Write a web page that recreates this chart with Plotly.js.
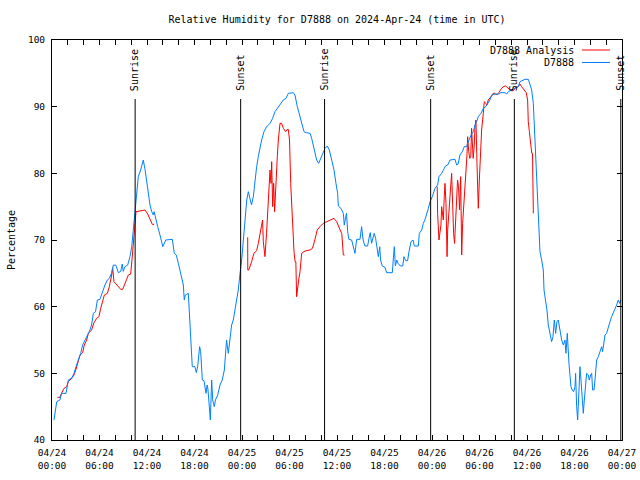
<!DOCTYPE html>
<html>
<head>
<meta charset="utf-8">
<script src="https://cdn.plot.ly/plotly-3.0.1.min.js"></script>
<style>html,body{margin:0;padding:0;background:#fff;}#chart{width:640px;height:480px;}</style>
</head>
<body>
<div id="chart"></div>
<script>
// Hours since 2024-04-24 00:00 UTC and relative humidity (%)
const obsHours = [0.25,0.6,1.0,1.2,1.77,1.95,2.06,2.5,2.78,3.03,3.33,3.62,3.87,4.17,4.46,4.71,5.0,5.22,5.5,5.73,6.06,6.36,6.69,6.99,7.24,7.54,7.75,8.08,8.38,8.68,8.88,9.0,9.22,9.56,9.85,10.07,10.19,10.36,10.52,10.7,10.9,11.2,11.53,11.75,11.96,12.17,12.38,12.6,12.8,12.9,13.1,13.35,13.64,13.93,14.0,14.36,15.2,15.45,15.7,15.96,16.17,16.38,16.59,16.71,16.84,17.22,17.43,17.56,17.72,18.05,18.23,18.4,18.65,18.78,18.99,19.2,19.45,19.6,19.7,20.0,20.17,20.3,20.5,20.65,20.93,21.22,21.5,21.77,21.94,22.05,22.27,22.52,22.69,22.9,23.11,23.33,23.53,23.75,23.96,24.17,24.38,24.6,24.8,25.0,25.2,25.43,25.64,25.85,26.06,26.27,26.48,26.78,26.95,27.12,27.54,27.87,28.17,28.46,28.71,29.0,29.22,29.56,29.85,30.48,30.69,30.99,31.24,31.54,31.83,32.1,32.6,32.8,33.0,33.22,33.43,33.68,33.85,34.19,34.48,34.77,35.03,35.33,35.62,35.87,36.08,36.17,36.5,36.8,36.92,37.1,37.2,37.35,37.5,37.85,38.06,38.27,38.48,38.9,39.11,39.3,39.53,39.87,40.04,40.2,40.37,40.58,40.7,40.88,41.05,41.22,41.4,41.5,41.72,42.06,42.27,42.99,43.1,43.24,43.37,43.55,43.7,44.0,44.3,44.46,44.67,44.92,45.09,45.35,45.6,45.77,46.27,46.4,46.7,46.9,47.1,47.33,47.54,47.75,48.04,48.38,48.71,48.88,49.22,49.55,49.7,49.98,50.27,50.9,51.12,51.3,51.53,51.83,52.08,52.35,52.6,52.93,53.22,53.43,53.64,53.85,54.19,54.48,54.78,55.03,55.32,55.53,55.96,56.37,56.7,57.22,57.43,57.64,58.06,58.48,58.9,59.11,59.75,60.17,60.38,60.59,60.8,61.01,61.13,61.3,61.43,61.51,61.64,61.85,62.06,62.15,62.36,62.52,62.69,62.9,63.11,63.28,63.45,63.62,63.78,63.95,64.16,64.38,64.59,64.8,64.92,65.09,65.3,65.43,65.55,65.72,65.89,66.06,66.14,66.27,66.4,66.57,66.69,66.82,66.99,67.11,67.24,67.41,67.53,67.74,67.87,68.04,68.17,68.29,68.46,68.59,68.71,68.8,69.01,69.22,69.43,69.55,69.64,69.85,70.06,70.27,70.48,70.69,70.9,71.11,71.32,71.53,71.7,71.85];
const obsValues = [43,45.75,46,47,47,48.5,49,49.3,50,51,52,53,54.25,55,55.75,56.25,57.25,59,59.25,61,61.1,62.25,63.25,64,64.25,65.1,66.25,66.2,65.1,65.3,66.4,65.3,66,66.25,67.5,69,70.5,73.5,75.5,78,79.5,80.5,82,80.6,78.75,76.75,75.25,74.25,73.75,74.25,73,72,70.75,69.4,69,70,70.1,68,67.75,66.5,65.25,64.5,63.25,61,61.75,62,57.5,54.75,51,51,50.1,51,54,53.25,49,48.9,47,48.25,47.6,43,49,46,45,46,46.75,48.25,49,50.5,54,55,53,55.75,57.25,58,59.5,61,62.5,65,67,70,73,76,77.25,76,75.25,76.5,79,81,82.5,84,85,86.25,86.75,87,87.5,88.25,89.25,89.75,90,90.5,91,91.25,92,92.1,91.75,90,88.75,87.5,86.25,86.1,86,85.25,84.25,82.75,82,81.5,82,82.75,83.75,84.1,83.5,82,80.5,78.5,77,75.1,74.75,74,72.25,73.5,74,71.25,70.1,70,69,68,70.1,70.1,72,70,69.1,69.1,70.25,71.1,69.5,70.5,71,70.25,69.1,67.5,69,67,66.1,65.9,65.1,65.1,67,69,66.1,67,66.5,66.1,66.1,67.5,66.9,66.9,68.25,69.75,70,69.1,69.1,71,71.5,72.5,73,73.75,74.75,75.75,76.5,77.75,78.25,79.5,80,80.75,81.1,81.25,82,82.1,81.25,81.4,82.75,83.25,84,84,84.75,85.75,86.25,87.25,87.75,88.5,89,89.75,90,90.5,91,91.75,91.9,91.9,92.1,92.1,91.9,92.25,92.5,92.75,93,93.75,94.1,94.1,93.25,92.5,90.5,85,82.5,78.75,74.25,71,68.25,67,65.5,62.5,61,59.5,57.25,56,54.75,55.5,58,56,57.75,58,56.25,55,54.25,55,53,56,51.5,50,48,47.5,47.25,48,50,45,43,47.5,51,49,45.5,44,46,48.5,50,49.75,49,49.75,50,47.5,47.5,49,51,52,52.5,53.25,54,53.25,54,55.75,56,57,57.75,58.5,59,59.5,60.25,61,60.5,61];

const anaHours = [0.67,1.0,1.2,1.52,1.85,2.06,2.48,2.78,3.03,3.33,3.54,3.87,4.08,4.38,4.59,5.0,5.3,5.64,5.93,6.15,6.4,6.61,6.99,7.24,7.54,7.66,7.83,8.08,8.46,8.68,8.93,9.18,9.43,9.64,9.94,10.1,10.27,10.44,10.61,11.11,11.75,12.09,12.38,12.67,12.9,18.0,24.72,24.73,24.85,25.0,25.22,25.5,25.85,26.06,26.27,26.48,26.6,26.69,26.9,27.1,27.28,27.45,27.54,27.66,27.75,27.87,28.0,28.12,28.29,28.46,28.59,28.71,28.8,29.0,29.22,29.52,29.64,29.85,30.0,30.15,30.27,30.4,30.57,30.7,30.8,30.9,31.02,31.16,31.33,31.54,31.83,32.1,32.6,32.9,33.2,33.5,33.85,34.27,34.7,35.2,35.62,35.96,36.17,36.4,36.6,36.7,36.8,36.96,42.0,48.66,48.71,48.88,49.0,49.13,49.22,49.43,49.55,49.64,49.77,49.9,49.98,50.06,50.14,50.27,50.48,50.6,50.73,50.85,50.98,51.1,51.23,51.35,51.48,51.62,51.75,51.87,52.0,52.17,52.3,52.43,52.5,52.64,52.77,52.9,53.0,53.2,53.33,53.43,53.55,53.68,53.77,53.85,53.98,54.1,54.27,54.48,54.6,54.78,54.94,55.1,55.32,55.53,55.74,55.96,56.16,56.45,56.7,57.0,57.3,57.64,57.98,58.27,58.57,58.9,59.11,59.32,59.65,59.9,60.08,60.16,60.3,60.46,60.6,60.7,60.8];
const anaValues = [46.4,46.4,47,47.75,48,48.75,49.25,49.75,50.6,51.75,52.75,53.1,54.25,55,56,56.5,57.6,58.25,58.5,59.75,60.75,61.75,62,63,64.75,65.85,63.75,63.4,62.9,62.6,62.6,63.25,64.1,64.75,64.9,67,70,71.75,74.25,74.4,74.5,73.9,73,72.35,72.35,null,70.4,65.5,65.5,66,66.75,68,68.4,69.5,71,72,73,69.75,67.5,71,75,77.5,80.5,78.5,81.75,75,78.5,74.25,79.5,82.5,85,87,87.5,87.5,86.75,86.25,86.5,86.6,85,78.5,75,72,68.25,66.75,66.75,61.5,62.9,64,65.25,68,68.25,68.4,68.5,68.75,70,71.5,72,72.5,72.75,73,73.25,72.75,72,71.5,71,69.25,67.75,67.75,null,78,74,70,71,72.25,75,73,76.5,78.5,75.5,67.5,71.5,73,75.5,76.5,80,74.5,71,69.5,72.5,76.5,79,78,74.5,79.5,67.75,72.5,75.5,79,80.5,83,85.5,83.25,82.25,82.5,86.75,82.25,84,87,88,81.5,76,74.75,79,83,86.5,89,90.75,90.5,90.25,91,91.25,91.6,92,92,91.75,92.1,92.6,93,93.1,92.75,92.4,92.4,92.9,93,93.4,93,92.5,92.1,91,87.75,86.25,84,83,83,74];

const sunHours = [10.5, 23.83, 34.43, 47.83, 58.4, 71.85];
const sunLabels = ["Sunrise","Sunset","Sunrise","Sunset","Sunrise","Sunset"];

const tickHours = [0,6,12,18,24,30,36,42,48,54,60,66,72];
const tickLabels = ["04/24<br>00:00","04/24<br>06:00","04/24<br>12:00","04/24<br>18:00","04/25<br>00:00","04/25<br>06:00","04/25<br>12:00","04/25<br>18:00","04/26<br>00:00","04/26<br>06:00","04/26<br>12:00","04/26<br>18:00","04/27<br>00:00"];

const seriesNames = ["D7888 Analysis", "D7888"];
const seriesColors = ["#ff0000", "#0080ff"];

const base = Date.UTC(2024, 3, 24, 0, 0, 0);
function toDate(h) {
  return new Date(base + Math.round(h * 3600000)).toISOString().slice(0, 19).replace('T', ' ');
}

const FONT = "DejaVu Sans Mono";

const traces = [
  {x: anaHours.map(toDate), y: anaValues, type: 'scatter', mode: 'lines', name: seriesNames[0],
   line: {color: seriesColors[0], width: 1}, connectgaps: false, showlegend: false},
  {x: obsHours.map(toDate), y: obsValues, type: 'scatter', mode: 'lines', name: seriesNames[1],
   line: {color: seriesColors[1], width: 1}, showlegend: false}
];

const L = 52, R = 622, T = 40, B = 440;
const px2x = p => (p - L) / (R - L);
const px2y = p => (B - p) / (B - T);

const shapes = [];
const annotations = [];
sunHours.forEach((h, i) => {
  shapes.push({type: 'line', xref: 'x', yref: 'paper', x0: toDate(h), x1: toDate(h), y0: 0, y1: px2y(99),
    line: {color: '#000', width: 1}});
  annotations.push({xref: 'x', yref: 'paper', x: toDate(h), y: px2y(93), text: sunLabels[i], textangle: -90,
    showarrow: false, xanchor: 'center', yanchor: 'bottom', font: {family: FONT, size: 10, color: '#000'}});
});

// legend (gnuplot style: text then sample)
[50, 62.5].forEach((py, i) => {
  annotations.push({xref: 'paper', yref: 'paper', x: px2x(576), y: px2y(py), text: seriesNames[i],
    showarrow: false, xanchor: 'right', yanchor: 'middle', font: {family: FONT, size: 10, color: '#000'}});
  shapes.push({type: 'line', xref: 'paper', yref: 'paper', x0: px2x(582), x1: px2x(610), y0: px2y(py), y1: px2y(py),
    line: {color: seriesColors[i], width: 1}});
});

const layout = {
  width: 640, height: 480,
  margin: {l: L, r: 640 - R, t: T, b: 480 - B, pad: 0},
  paper_bgcolor: '#fff', plot_bgcolor: '#fff',
  font: {family: FONT, size: 10, color: '#000'},
  title: {text: 'Relative Humidity for D7888 on 2024-Apr-24 (time in UTC)', x: 0.5, xref: 'paper',
    y: 1 - 19 / 480, yanchor: 'middle', font: {family: FONT, size: 10, color: '#000'}},
  xaxis: {
    type: 'date', range: [toDate(0), toDate(72)],
    tickvals: tickHours.map(toDate), ticktext: tickLabels,
    ticks: 'inside', ticklen: 5, tickcolor: '#000', tickwidth: 1,
    minor: {dtick: 7200000, ticks: 'inside', ticklen: 5, tickcolor: '#000', tickwidth: 1, showgrid: false},
    showline: true, linecolor: '#000', linewidth: 1, mirror: 'allticks',
    showgrid: false, zeroline: false, tickangle: 0,
    tickfont: {family: FONT, size: 9.5, color: '#000'}, ticklabelstandoff: 4
  },
  yaxis: {
    range: [40, 100], dtick: 10, tick0: 40,
    ticks: 'inside', ticklen: 5, tickcolor: '#000', tickwidth: 1,
    showline: true, linecolor: '#000', linewidth: 1, mirror: 'allticks',
    showgrid: false, zeroline: false,
    tickfont: {family: FONT, size: 9.5, color: '#000'}, ticklabelstandoff: 4,
    title: {text: 'Percentage', standoff: 10, font: {family: FONT, size: 10, color: '#000'}},
    automargin: false
  },
  shapes: shapes,
  annotations: annotations
};

Plotly.newPlot('chart', traces, layout, {staticPlot: true, displayModeBar: false});
</script>
</body>
</html>
